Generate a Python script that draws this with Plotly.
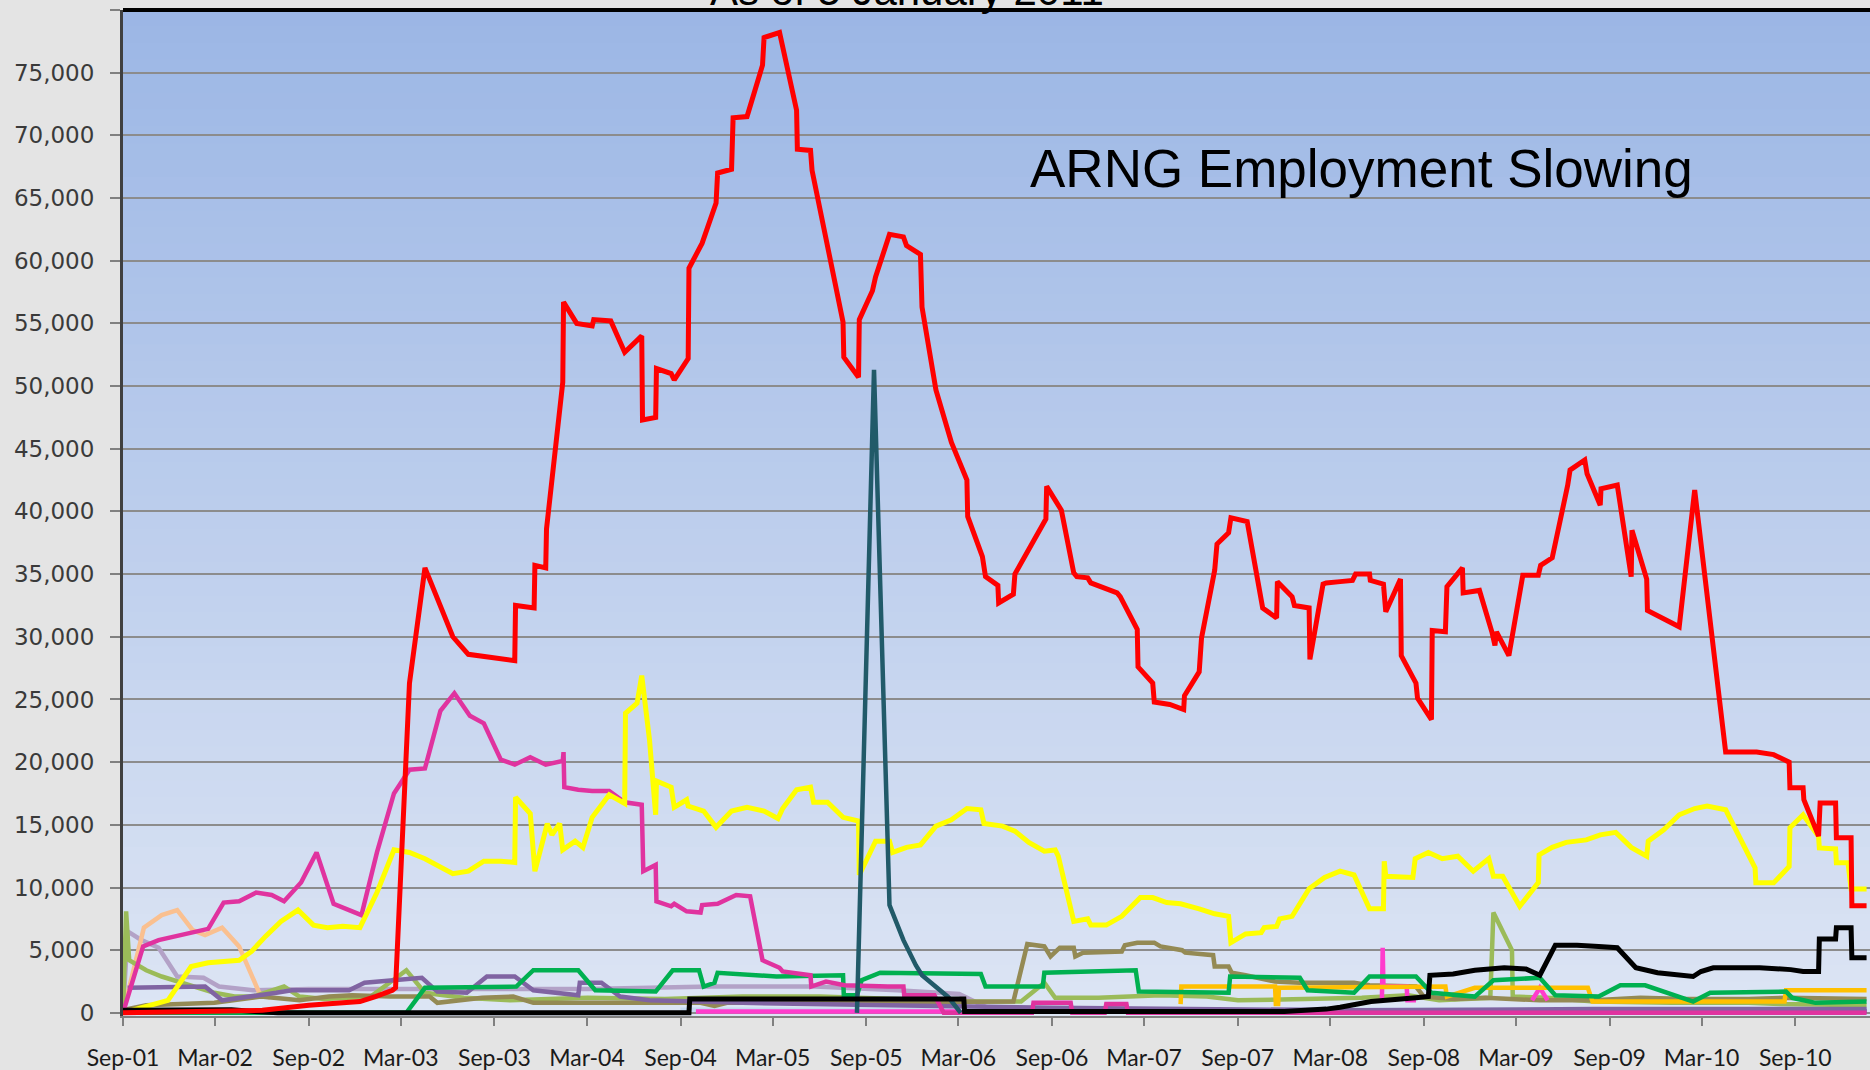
import plotly.graph_objects as go
import pandas as pd

# ---------------- data (x = months after 1 Sep 2001, y = soldiers) ----------------
red_m = [0, 6, 9, 12, 15.3, 16.3, 17.4, 17.6, 18.5, 19.5, 21.3, 22.3, 24, 25.3, 25.35, 26.55, 26.6, 27.3, 27.35,
         28.4, 28.45, 29.3, 30.3, 30.4, 31.5, 32.4, 33.5, 33.55, 34.4, 34.45, 35.4, 35.6, 36.5, 36.55, 37.4, 38.3,
         38.4, 39.3, 39.4, 40.3, 41.3, 41.4, 42.4, 43.5, 43.55, 44.4, 44.5, 46.5, 46.55, 47.5, 47.55, 48.4, 48.6,
         49.5, 50.4, 50.6, 51.5, 51.6, 52.5, 53.5, 54.5, 54.55, 55.5, 55.7, 56.5, 56.55, 57.5, 57.6, 59.6, 59.65,
         60.6, 61.4, 61.6, 62.3, 62.5, 64.2, 64.4, 65.5, 65.55, 66.5, 66.6, 67.6, 68.5, 68.55, 69.5, 69.65, 70.5,
         70.65, 71.4, 71.55, 72.6, 73.6, 74.5, 74.55, 75.5, 75.65, 76.6, 76.65, 77.5, 77.7, 78.6, 79.4, 79.6, 80.5,
         80.55, 81.4, 81.55, 82.5, 82.55, 83.5, 83.6, 84.5, 84.55, 85.4, 85.5, 86.5, 86.55, 87.6, 88.4, 88.6, 88.7,
         89.5, 90.4, 91.4, 91.55, 92.3, 93.3, 93.45, 94.4, 94.55, 95.4, 95.45, 96.5, 97.4, 97.45, 98.4, 98.45,
         100.5, 101.5, 102.6, 103.5, 105.5, 106.6, 107.6, 107.65, 108.5, 108.55, 109.5, 109.6, 110.6, 110.65,
         111.6, 111.65, 112.6]
red_v = [0, 100, 200, 600, 900, 1300, 1800, 2000, 26300, 35500, 30000, 28600, 28300, 28100, 32500, 32300, 35700,
         35500, 38600, 50300, 56700, 55000, 54800, 55300, 55200, 52700, 54000, 47300, 47500, 51400, 51000, 50500,
         52200, 59400, 61400, 64600, 67000, 67300, 71400, 71500, 75600, 77800, 78200, 72000, 68900, 68800, 67200,
         55100, 52300, 50700, 55300, 57600, 58700, 62100, 61900, 61200, 60500, 56300, 49700, 45500, 42500, 39600,
         36400, 34800, 34100, 32700, 33400, 35000, 39400, 42000, 40100, 35100, 34800, 34700, 34300, 33500, 33200,
         30600, 27600, 26300, 24800, 24600, 24200, 25300, 27200, 29900, 35300, 37400, 38300, 39500, 39200, 32300,
         31500, 34400, 33200, 32500, 32300, 28200, 34200, 34300, 34400, 34500, 35000, 35000, 34500, 34200, 32000,
         34600, 28500, 26300, 25100, 23400, 30500, 30400, 34000, 35500, 33500, 33700, 30400, 29300, 30400, 28500,
         34900, 34900, 35700, 36300, 42100, 43300, 44100, 43000, 40500, 41800, 42100, 34800, 38500, 34600, 32100,
         30800, 41700, 30500, 20800, 20800, 20600, 20000, 17950, 17950, 17000, 14100, 16750, 16750, 13960, 13960,
         8540, 8540]

yellow_m = [0, 2.9, 4.4, 5.5, 7.5, 8.3, 9.2, 10.2, 11.3, 12.3, 13.2, 14.2, 15.3, 16.4, 17.5, 18.5, 19.5, 21.3,
            22.3, 23.3, 24.4, 25.3, 25.35, 26.3, 26.6, 27.4, 27.7, 28.2, 28.4, 29.2, 29.7, 30.3, 31.4, 32.4, 32.45,
            33.2, 33.5, 34.0, 34.4, 34.45, 35.4, 35.6, 36.4, 36.5, 37.5, 38.3, 39.3, 40.3, 41.4, 42.3, 42.6, 43.5,
            44.4, 44.6, 45.5, 46.5, 47.5, 47.55, 48.6, 49.5, 49.7, 50.6, 51.5, 52.5, 53.5, 54.5, 55.4, 55.6, 56.8,
            57.6, 58.5, 59.5, 60.2, 60.4, 61.4, 62.3, 62.5, 63.5, 64.5, 65.3, 65.7, 66.5, 67.4, 68.3, 69.1, 69.5,
            70.5, 71.4, 71.55, 72.5, 73.5, 73.7, 74.5, 74.7, 75.5, 76.6, 77.6, 78.6, 79.5, 80.5, 81.4, 81.45, 81.55,
            83.3, 83.45, 84.3, 85.2, 86.2, 87.2, 88.2, 88.5, 89.1, 90.2, 91.4, 91.45, 92.3, 93.2, 94.5, 95.4, 96.4,
            97.4, 98.4, 98.5, 99.5, 100.5, 101.5, 102.3, 103.5, 105.4, 105.45, 106.6, 107.6, 107.65, 108.5, 109.5,
            109.55, 110.6, 110.65, 111.4, 111.6, 112.6]
yellow_v = [0, 1000, 3700, 4000, 4200, 4900, 6100, 7300, 8200, 7000, 6800, 6900, 6800, 9600, 13000, 12800, 12300,
            11100, 11300, 12100, 12100, 12000, 17200, 15900, 11300, 15100, 14200, 15100, 13000, 13700, 13200, 15600,
            17400, 16700, 23900, 24700, 26900, 21800, 15800, 18500, 18000, 16400, 17000, 16500, 16100, 14800, 16100,
            16400, 16100, 15500, 16300, 17800, 18000, 16800, 16800, 15600, 15300, 11000, 13700, 13700, 12800, 13200,
            13400, 14900, 15400, 16300, 16200, 15100, 14900, 14500, 13600, 12900, 13000, 12500, 7300, 7500, 7000,
            7000, 7700, 8700, 9200, 9200, 8800, 8700, 8500, 8300, 7900, 7700, 5600, 6300, 6400, 6800, 6900, 7500,
            7700, 9900, 10800, 11300, 11000, 8300, 8300, 12100, 10900, 10800, 12300, 12800, 12300, 12500, 11300,
            12300, 10900, 10900, 8500, 10400, 12600, 13200, 13600, 13800, 14200, 14400, 13200, 12500, 13700, 14600,
            15800, 16300, 16500, 16200, 11570, 10370, 10370, 11670, 14760, 15800, 14060, 13160, 13080, 11970, 11970,
            9890, 9890]

magenta_m = [0, 1.3, 2.3, 5.5, 6.5, 7.5, 8.6, 9.6, 10.4, 11.5, 12.5, 13.6, 14.6, 15.4, 16.4, 17.5, 18.5, 19.5,
             20.5, 21.4, 22.4, 23.3, 24.4, 25.3, 26.3, 27.3, 28.4, 28.45, 28.5, 29.4, 30.3, 31.4, 32.4, 33.5, 33.6,
             34.4, 34.45, 35.4, 35.6, 36.4, 37.3, 37.4, 38.4, 39.6, 40.5, 41.3, 42.4, 42.6, 44.4, 44.45, 45.4, 46.6,
             49.4, 50.4, 50.45, 52.4, 53.0, 58.7, 58.8, 61.2, 61.3, 63.4, 63.5, 64.8, 64.9, 112.6]
magenta_v = [0, 5300, 5800, 6700, 8800, 8900, 9600, 9400, 8900, 10400, 12800, 8700, 8200, 7800, 12800, 17500,
             19400, 19500, 24100, 25500, 23700, 23100, 20200, 19800, 20400, 19800, 20100, 20800, 18000, 17800, 17700,
             17700, 16800, 16600, 11300, 11800, 8900, 8500, 8700, 8100, 8000, 8600, 8700, 9400, 9300, 4200, 3600,
             3300, 3000, 2100, 2500, 2200, 2100, 2100, 1400, 1400, 0, 0, 800, 800, 0, 0, 700, 700, 0, 0]

teal_m = [47.4, 48.5, 49.5, 50.4, 51.2, 51.6, 53.3, 54.1]
teal_v = [0, 51300, 8600, 5800, 3800, 3000, 1250, 0]

black_m = [0, 7, 8.5, 10, 36.55, 36.6, 54.3, 54.35, 75, 76, 77.7, 78.6, 80.6, 83.5, 84.3, 84.4, 85.9, 87.3, 89.2,
           90.6, 91.5, 92.5, 93.9, 95.3, 96.5, 97.7, 99.1, 101.4, 101.9, 102.7, 105.7, 107.7, 108.5, 109.5, 109.55,
           110.6, 110.65, 111.6, 111.65, 112.6]
black_v = [200, 250, 100, 0, 0, 1100, 1100, 100, 100, 150, 300, 450, 900, 1200, 1300, 3000, 3100, 3400, 3600, 3500,
           3000, 5400, 5400, 5300, 5200, 3600, 3200, 2900, 3300, 3600, 3600, 3450, 3300, 3300, 5900, 5900, 6780,
           6780, 4400, 4400]

green_m = [0, 18.3, 19.5, 25.4, 26.5, 29.4, 30.5, 34.4, 35.5, 37.2, 37.5, 38.2, 38.4, 42.2, 46.5, 46.55, 47.4, 47.7,
           48.9, 55.4, 55.7, 59.4, 59.5, 65.4, 65.6, 71.4, 71.5, 76, 76.5, 79.5, 80.5, 83.5, 84.5, 87.3, 88.5, 91.5,
           92.5, 95.3, 96.7, 98.3, 101.4, 102.5, 107.4, 107.8, 109.3, 112.6]
green_v = [0, 0, 2000, 2100, 3400, 3400, 1800, 1700, 3400, 3400, 2100, 2400, 3200, 2900, 3000, 1400, 1400, 2600,
           3200, 3100, 2100, 2100, 3200, 3400, 1700, 1600, 2900, 2800, 1800, 1600, 2900, 2900, 1600, 1300, 2600,
           2800, 1400, 1300, 2200, 2200, 900, 1600, 1700, 1200, 800, 900]

gold_m = [68.3, 68.35, 74.4, 74.45, 74.6, 74.65, 85.4, 85.5, 87.3, 94.6, 94.9, 107.3, 107.4, 112.6]
gold_v = [700, 2100, 2100, 700, 700, 2000, 2100, 1300, 2000, 2000, 900, 900, 1800, 1800]

brown_m = [0, 0.3, 1.5, 5.9, 8.9, 11.4, 13.3, 14.8, 17.3, 19.8, 20.3, 23.2, 25.2, 26.5, 37.3, 38.2, 39, 57.5, 58.4,
           59.5, 59.9, 60.5, 61.4, 61.5, 62, 64.5, 64.7, 65.5, 66.6, 67, 68.4, 68.6, 70.4, 70.5, 71.4, 71.6, 72.5,
           74.4, 76, 79.5, 80.5, 83.5, 84, 86, 88, 91.5, 95, 98, 101, 105, 107.4, 112.6]
brown_v = [0, 300, 600, 800, 1300, 1000, 1300, 1400, 1300, 1300, 800, 1200, 1300, 800, 800, 550, 800, 900, 5500,
           5300, 4500, 5200, 5200, 4500, 4800, 4900, 5400, 5600, 5600, 5300, 5000, 4800, 4600, 3700, 3700, 3200,
           3000, 2500, 2400, 2400, 2200, 2100, 1300, 1100, 1200, 1000, 1000, 1200, 1100, 1100, 1200, 1100]

olive_m = [0, 0.2, 0.4, 1.5, 2.5, 3.5, 4.7, 5.9, 7.2, 8.4, 10.4, 11.4, 13, 16, 18.3, 19.5, 22, 25, 30, 35, 40, 45,
           50, 54, 58, 59.5, 60.2, 63, 67, 70, 72, 76, 80, 83, 85, 88.3, 88.5, 89.7, 89.75, 92, 95, 100, 105, 107,
           112.6]
olive_v = [0, 8100, 4200, 3400, 2900, 2500, 2100, 1600, 1300, 1300, 2100, 1300, 1100, 1300, 3400, 1600, 1200, 1000,
           1200, 1100, 1300, 1300, 1100, 900, 900, 2400, 1200, 1200, 1400, 1300, 1000, 1100, 1200, 1400, 1000, 1200,
           8000, 5000, 1300, 1200, 900, 800, 800, 700, 600]

lavender_m = [0, 0.3, 1.2, 2.3, 3.5, 5.2, 6.2, 8.4, 12, 20, 30, 38, 44.7, 50, 54, 56]
lavender_v = [0, 6500, 5800, 5200, 2900, 2800, 2100, 1800, 1900, 1900, 1900, 2100, 2100, 1800, 1500, 300]

peach_m = [0, 1.35, 2.5, 3.5, 4.5, 5.3, 6.4, 7.5, 8.8, 9.5]
peach_v = [0, 6800, 7800, 8200, 6600, 6200, 6800, 5300, 1600, 1200]

purple_m = [0.3, 5.3, 6.4, 8.4, 9.9, 10.9, 14.6, 15.6, 17.3, 19.3, 20.3, 22.2, 23.5, 25.3, 26.5, 29.4, 29.5, 30.9,
            32.1, 34, 40, 50, 60, 80, 95, 112.6]
purple_v = [2000, 2100, 1000, 1300, 1600, 1800, 1800, 2400, 2600, 2800, 1700, 1600, 2900, 2900, 1800, 1400, 2400,
            2400, 1300, 1000, 800, 600, 400, 200, 300, 300]

pink_m = [37, 54, 54.1, None, 81.3, 81.35, 81.4, 82.9, 82.95, 83.5, None, 91.0, 91.5, 92.0]
pink_v = [100, 100, 0, None, 1000, 5200, 2100, 2100, 1000, 1000, None, 1000, 2000, 1000]

lightblue_m = [36, 112.6]
lightblue_v = [250, 250]

violet_m = [80, 95, 112.6]
violet_v = [100, 150, 150]

x_tick_start = "2001-09-01"
x_end = "2011-01-26"
title_text = "As of 5 January 2011"
note_text = "ARNG Employment Slowing"

BASE = pd.Timestamp(x_tick_start)


def to_dates(months):
    return [None if m is None else BASE + pd.Timedelta(days=m * 30.4375) for m in months]


series = [
    (lightblue_m, lightblue_v, "#c6d9f1", 4.5),
    (violet_m, violet_v, "#7030a0", 4.5),
    (lavender_m, lavender_v, "#b3a2c7", 4.5),
    (peach_m, peach_v, "#fac090", 4.5),
    (olive_m, olive_v, "#9bbb59", 4.5),
    (brown_m, brown_v, "#948a54", 4.5),
    (purple_m, purple_v, "#8064a2", 4.5),
    (pink_m, pink_v, "#ff3ccc", 4.5),
    (gold_m, gold_v, "#ffc000", 4.5),
    (green_m, green_v, "#00b050", 4.5),
    (magenta_m, magenta_v, "#e0339f", 4.5),
    (yellow_m, yellow_v, "#ffff00", 5),
    (teal_m, teal_v, "#215a69", 4.5),
    (black_m, black_v, "#000000", 5),
    (red_m, red_v, "#ff0000", 5),
]

fig = go.Figure()
for m, v, c, w in series:
    fig.add_trace(go.Scatter(x=to_dates(m), y=v, mode="lines", line=dict(color=c, width=w),
                             connectgaps=False, hoverinfo="skip"))

# vertical gradient background of the plot area
shapes = []
n = 60
top = (155, 182, 229)
bot = (221, 229, 244)
for i in range(n):
    t = (i + 0.5) / n
    col = tuple(int(round(top[k] + (bot[k] - top[k]) * t)) for k in range(3))
    shapes.append(dict(type="rect", xref="paper", yref="paper", x0=0, x1=1,
                       y0=1 - (i + 1) / n, y1=1 - i / n + 0.001, layer="below",
                       line=dict(width=0), fillcolor="rgb(%d,%d,%d)" % col))
shapes.append(dict(type="line", xref="paper", yref="paper", x0=0, x1=1, y0=1, y1=1,
                   line=dict(color="black", width=4), layer="above"))

fig.update_layout(
    width=1870, height=1070,
    margin=dict(l=123, r=0, t=10, b=54),
    paper_bgcolor="#e4e4e4",
    plot_bgcolor="#dde5f3",
    showlegend=False,
    shapes=shapes,
    annotations=[
        dict(text=title_text, xref="paper", yref="paper", x=(907 - 123) / 1747, y=1 - 6 / 1006,
             xanchor="center", yanchor="bottom", showarrow=False,
             font=dict(family="Liberation Sans", size=42, color="black")),
        dict(text=note_text, xref="paper", yref="paper", x=(1361 - 123) / 1747, y=(1016 - 168) / 1006,
             xanchor="center", yanchor="middle", showarrow=False,
             font=dict(family="Liberation Sans", size=53, color="black")),
    ],
)

fig.update_xaxes(
    type="date", range=[x_tick_start, x_end], automargin=False,
    tick0=x_tick_start, dtick="M6", tickformat="%b-%y",
    ticks="outside", ticklen=8, tickwidth=1.5, tickcolor="#808080",
    showgrid=False, showline=True, linecolor="#808080", linewidth=2,
    tickfont=dict(family="Lato", size=23, color="#1a1a1a"),
    ticklabelstandoff=12,
)
fig.update_yaxes(
    range=[-250, 80000], tick0=0, dtick=5000, tickformat=",d", automargin=False,
    showgrid=True, gridcolor="#8c8c8c", gridwidth=2, zeroline=False,
    ticks="outside", ticklen=10, tickwidth=1.5, tickcolor="#808080",
    showline=True, linecolor="#404040", linewidth=3,
    tickfont=dict(family="DejaVu Sans", size=23, color="#3a3a3a"),
    ticklabelstandoff=11,
)

fig.write_html(
    "out.html",
    config={"displayModeBar": False},
    post_script="document.body.style.margin='0';document.body.style.overflow='hidden';",
)
